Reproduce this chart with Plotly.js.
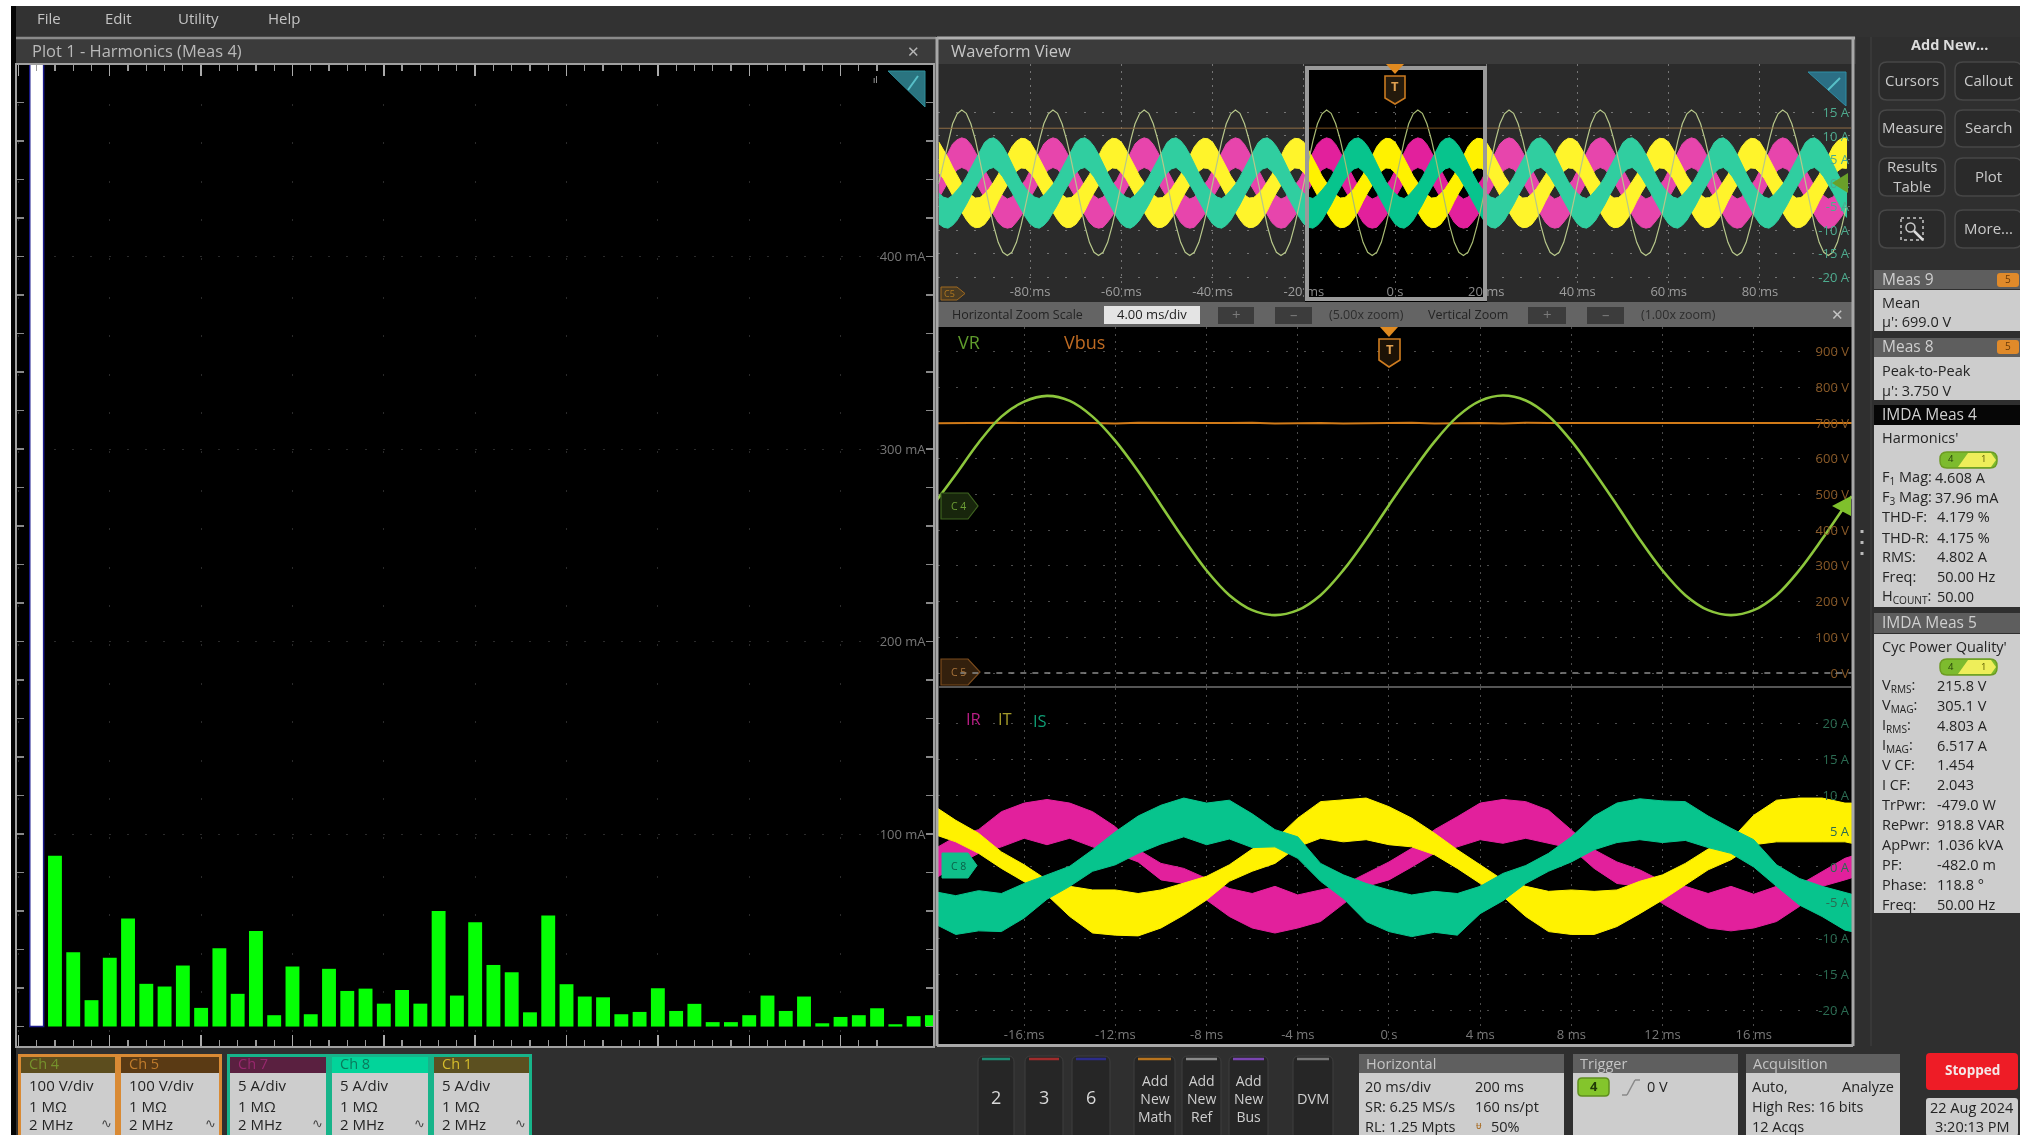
<!DOCTYPE html>
<html><head><meta charset="utf-8">
<script src="https://cdn.plot.ly/plotly-3.0.1.min.js"></script>
<style>html,body{margin:0;padding:0;background:#fff;overflow:hidden}#plot{width:2020px;height:1135px;filter:blur(0.7px)}</style>
</head><body><div id="plot"></div>
<script>
// ---------- values ----------
const harmonicMilliamps = [4608,88.7,38.6,13.7,35.8,56.1,22.2,20.8,31.7,9.7,40.7,17,49.7,5.9,31.2,6.4,30,18.5,19.7,11.9,19,11.9,60,16.1,54.2,32,28.2,7.4,57.7,22,15.6,15.2,6.4,7.6,19.9,8.1,11.8,2.3,2.3,5.9,16.1,8.1,15.6,1.7,5,5.9,9.5,1.2,5.4,5.9];
const harmonicTickValues = [100,200,300,400];
const harmonicTickLabels = ['100 mA','200 mA','300 mA','400 mA'];

// zoomed (40 ms) view
const captureMs = [-20,-19,-18,-17,-16,-15,-14,-13,-12,-11,-10,-9,-8,-7,-6,-5,-4,-3,-2,-1,0,1,2,3,4,5,6,7,8,9,10,11,12,13,14,15,16,17,18,19,20,20.3];
const vrVolts = [470,556,645,718,760,776,762,718,650,565,470,375,287,218,176,162,176,218,288,375,470,562,648,718,762,777,763,720,650,563,470,374,287,218,176,162,176,218,288,375,468,495];
const vbusVolts = [699,700,699,701,700,699,700,700,699,701,700,699,700,700,701,699,700,700,699,700,700,701,699,700,700,699,701,700,700,699,700,701,700,699,700,700,699,701,700,699,700,700];
const irUpperAmps = [2.4,4.2,5.2,7.7,8.9,9.4,8.9,7.7,5.6,2.4,0.5,-0.2,-1.6,-3.0,-3.7,-2.7,-3.9,-3.2,-2.5,-0.9,0.7,2.6,5.2,7.0,8.9,9.4,9.1,7.9,5.2,2.4,0.7,-0.4,-2.0,-2.7,-3.7,-2.7,-3.8,-2.7,-2.5,-0.6,1.2,1.5];
const irLowerAmps = [-1.8,0.2,1.9,2.8,4.0,3.1,4.0,2.8,1.9,0.7,-1.8,-2.3,-4.6,-6.9,-8.5,-9.2,-8.5,-7.6,-5.1,-2.7,-1.8,0.0,1.9,2.8,3.8,3.3,4.0,3.3,2.6,-0.2,-2.3,-2.7,-5.1,-6.9,-8.5,-8.9,-8.5,-7.6,-5.5,-2.7,-1.8,-1.5];
const itUpperAmps = [8.6,6.5,4.7,2.1,0.3,-1.8,-2.7,-3.2,-3.2,-3.7,-3.2,-2.3,-1.3,0.3,2.5,3.8,6.8,9.1,9.3,9.6,8.4,6.8,4.7,2.4,0.3,-1.8,-2.7,-3.4,-3.2,-3.4,-3.2,-2.0,-1.1,0.5,2.5,3.8,7.2,9.3,9.6,9.6,8.9,8.9];
const itLowerAmps = [4.6,3.5,1.9,-0.2,-2.0,-3.9,-6.9,-9.2,-9.5,-9.6,-8.5,-6.7,-4.6,-2.0,-0.6,0.5,2.8,4.0,3.5,3.8,3.1,2.8,1.7,-0.2,-2.3,-4.1,-6.9,-9.0,-9.4,-9.4,-8.3,-6.5,-4.6,-2.5,-0.4,1.0,3.1,3.5,3.5,3.5,3.5,3.3];
const isUpperAmps = [-3.4,-4.0,-3.3,-3.7,-2.3,-1.1,0.1,2.4,4.9,7.1,8.6,9.6,8.9,9.3,7.4,5.2,4.2,0.5,-1.1,-2.3,-3.2,-3.9,-3.4,-3.7,-2.7,-0.9,0.2,1.9,4.2,7.1,8.9,9.5,9.2,9.1,7.1,5.4,3.8,0.3,-1.6,-2.7,-3.5,-3.8];
const isLowerAmps = [-7.8,-9.4,-8.9,-9.0,-7.1,-4.5,-2.7,-0.6,0.3,1.9,3.2,4.2,3.1,3.9,2.7,2.8,1.2,-2.0,-4.4,-7.6,-9.0,-9.7,-9.1,-9.5,-6.5,-4.7,-2.3,-0.6,0.7,2.4,3.4,3.8,3.4,3.7,2.7,1.9,0.0,-2.7,-5.3,-6.9,-8.8,-9.0];

// overview (200 ms) view: one period read from the overview, whose envelopes are wider than in the zoom
const overviewCycleMs = [-20,-19,-18,-17,-16,-15,-14,-13,-12,-11,-10,-9,-8,-7,-6,-5,-4,-3,-2,-1];
const overviewCycleOffsetsMs = [-80,-60,-40,-20,0,20,40,60,80,100];
const ovVrVolts = [470,556,645,718,760,776,762,718,650,565,470,375,287,218,176,162,176,218,288,375];
const ovIrUpper = [2.6,4.6,6.6,8.3,9.2,9.6,9.3,8.2,6.5,4.7,2.7,0.9,-0.8,-2.0,-2.8,-3.4,-3.0,-1.8,-0.6,0.7];
const ovIrLower = [-3.2,-1.4,0.2,1.7,2.8,3.3,2.9,1.8,0.3,-1.5,-3.1,-5.1,-6.8,-8.4,-9.3,-9.6,-9.4,-8.3,-7.0,-5.3];
const ovItUpper = [8.7,7.1,5.4,3.4,1.5,-0.1,-1.4,-2.5,-3.2,-3.1,-2.3,-1.2,0.2,1.8,3.8,5.8,7.7,8.9,9.5,9.4];
const ovItLower = [2.2,0.9,-0.7,-2.5,-4.4,-6.2,-7.8,-9.0,-9.5,-9.4,-8.8,-7.5,-5.9,-3.9,-2.1,-0.4,1.1,2.5,3.2,3.1];
const ovIsUpper = [-2.2,-3.0,-3.3,-2.6,-1.5,-0.3,1.3,3.2,5.1,7.0,8.6,9.4,9.6,9.0,7.8,6.1,4.0,2.1,0.3,-1.1];
const ovIsLower = [-8.7,-9.4,-9.6,-9.0,-7.9,-6.4,-4.6,-2.7,-0.9,0.7,2.1,3.0,3.3,2.5,1.3,-0.2,-2.0,-3.8,-5.7,-7.3];

const zoomTimeTicks = [-16,-12,-8,-4,0,4,8,12,16];
const zoomTimeLabels = ['-16 ms','-12 ms','-8 ms','-4 ms','0 s','4 ms','8 ms','12 ms','16 ms'];
const overviewTimeTicks = [-80,-60,-40,-20,0,20,40,60,80];
const overviewTimeLabels = ['-80 ms','-60 ms','-40 ms','-20 ms','0 s','20 ms','40 ms','60 ms','80 ms'];
const voltTicks = [0,100,200,300,400,500,600,700,800,900];
const voltLabels = ['0 V','100 V','200 V','300 V','400 V','500 V','600 V','700 V','800 V','900 V'];
const ampTicks = [-20,-15,-10,-5,0,5,10,15,20];
const ampLabels = ['-20 A','-15 A','-10 A','-5 A','0 A','5 A','10 A','15 A','20 A'];

// ---------- helpers ----------
const W=2020,H=1135;
const X=p=>p/W, Y=p=>1-p/H;
const FONT='"Open Sans", sans-serif';
const shapes=[], notes=[];
function rect(x0,y0,x1,y1,fill,line,lw,layer){shapes.push({type:'rect',xref:'paper',yref:'paper',x0:X(x0),x1:X(x1),y0:Y(y0),y1:Y(y1),fillcolor:fill||'rgba(0,0,0,0)',line:{color:line||'rgba(0,0,0,0)',width:lw||0},layer:layer||'below'});}
function line(x0,y0,x1,y1,c,w,layer,dash){shapes.push({type:'line',xref:'paper',yref:'paper',x0:X(x0),x1:X(x1),y0:Y(y0),y1:Y(y1),line:{color:c,width:w||1,dash:dash||'solid'},layer:layer||'above'});}
function poly(pts,fill,lc,lw){const d=pts.map((p,i)=>(i?'L':'M')+X(p[0])+','+Y(p[1])).join(' ')+' Z';shapes.push({type:'path',xref:'paper',yref:'paper',path:d,fillcolor:fill,line:{color:lc||'rgba(0,0,0,0)',width:lw||0},layer:'above'});}
function rrect(x0,y0,x1,y1,r,fill,lc,lw,layer){const P=(x,y)=>X(x)+','+Y(y);const d='M'+P(x0+r,y0)+' L'+P(x1-r,y0)+' Q'+P(x1,y0)+' '+P(x1,y0+r)+' L'+P(x1,y1-r)+' Q'+P(x1,y1)+' '+P(x1-r,y1)+' L'+P(x0+r,y1)+' Q'+P(x0,y1)+' '+P(x0,y1-r)+' L'+P(x0,y0+r)+' Q'+P(x0,y0)+' '+P(x0+r,y0)+' Z';shapes.push({type:'path',xref:'paper',yref:'paper',path:d,fillcolor:fill,line:{color:lc||'rgba(0,0,0,0)',width:lw||0},layer:layer||'below'});}
function txt(x,y,t,size,color,anchor,extra){notes.push(Object.assign({xref:'paper',yref:'paper',x:X(x),y:Y(y-1),text:t,showarrow:false,xanchor:anchor||'left',yanchor:'middle',font:{family:FONT,size:size,color:color},borderpad:0,borderwidth:0},extra||{}));}

// ---------- screen furniture ----------
rect(0,0,2020,6,'#ffffff');
rect(0,0,11,1135,'#ffffff');
rect(11,6,16,1135,'#050505');
rect(16,6,2020,37,'#323232');
[['File',37],['Edit',105],['Utility',178],['Help',268]].forEach(m=>txt(m[1],19,m[0],15,'#c4c4c4'));
rect(16,37,936,65,'#3b3b3b'); line(16,38,936,38,'#8a8a8a',2.5,'below');
txt(32,52,'Plot 1 - Harmonics (Meas 4)',16.5,'#b9b9b9');
txt(913,52,'✕',15,'#b5b5b5','center');
poly([[888,71],[925,71],[925,107]],'#2a7480','#2f8f9a',1);
line(908,90,918,76,'#58c0c8',2);
txt(875,81,'ıl',9,'#bbbbbb','center');
rect(936,37,1856,64,'#3b3b3b'); line(937,38,1855,38,'#b0b0b0',3,'below');
txt(951,52,'Waveform View',16.5,'#c6c6c6');
rect(938,302,1852,327,'#646464','','','above');
txt(952,315,'Horizontal Zoom Scale',12.5,'#232323');
rect(1104,306,1200,324,'#e4e4e4','','','above');
txt(1152,315,'4.00 ms/div',13,'#222','center');
[[1218,1254,'+'],[1275,1312,'–'],[1528,1566,'+'],[1587,1624,'–']].forEach(b=>{rect(b[0],307,b[1],324,'#3c3c3c','','','above');txt((b[0]+b[1])/2,315,b[2],15,'#7a7a7a','center');});
txt(1366,315,'(5.00x zoom)',12.5,'#2d2d2d','center');
txt(1428,315,'Vertical Zoom',12.5,'#232323');
txt(1678,315,'(1.00x zoom)',12.5,'#2d2d2d','center');
txt(1837,315,'✕',15,'#c4c4c4','center');
// overview dimming and zoom box
rect(938,64,1305,302,'rgba(255,255,255,0.17)','','','above');
rect(1487,64,1852,302,'rgba(255,255,255,0.17)','','','above');
rect(1305,64,1487,67,'rgba(255,255,255,0.17)','','','above');
rect(1307,68,1485,299,'rgba(0,0,0,0)','#9a9a9a',4,'above');
// panel frame
line(937,37,937,1046,'#a8a8a8',3,'above'); line(1853,37,1853,1046,'#a8a8a8',3,'above');
line(937,1045.5,1853,1045.5,'#a8a8a8',3,'above'); line(938,687,1852,687,'#555',2,'above');
// overview markers
poly([[1386,64],[1404,64],[1395,74]],'#e08a20');
poly([[1385,76],[1405,76],[1405,98],[1395,104],[1385,98]],'#241a0c','#c97a20',1.6);
txt(1395,87,'T',13,'#e0a050','center',{font:{family:FONT,size:13,color:'#e0a050',weight:700}});
poly([[941,287],[957,287],[965,293.5],[957,300],[941,300]],'#4a3b22','#a06a20',1);
txt(949,294,'C5',9,'#b07820','center');
poly([[1808,72],[1846,72],[1846,106]],'#2b6f85','#2f8fa5',1);
line(1828,90,1840,78,'#58c0c8',2);
poly([[1848,173],[1848,193],[1832,183]],'#6aa02a');
// main markers
poly([[1380,327],[1398,327],[1389,337]],'#e08a20');
poly([[1379,339],[1400,339],[1400,360],[1389,367],[1379,360]],'#1c1206','#d07d20',1.6);
txt(1389.5,350,'T',13,'#e0a050','center',{font:{family:FONT,size:13,color:'#e0a050',weight:700}});
poly([[941,493],[968,493],[978,506],[968,519],[941,519]],'#18260c','#3f6420',1.2);
txt(958,507,'C 4',10.5,'#6d9e35','center');
poly([[941,659],[968,659],[980,672],[968,685],[941,685]],'#33200d','#7a4a1c',1.2);
txt(958,673,'C 5',10.5,'#a9743b','center');
poly([[942,853],[968,853],[977,865.5],[968,878],[942,878]],'#0fbf8a','#0fbf8a',1);
txt(958,867,'C 8',10.5,'#0a6048','center');
poly([[1851,496],[1851,516],[1832,506]],'#7fc02c');
txt(958,343,'VR',18,'#5f9c2c');
txt(1064,343,'Vbus',18,'#bf6b22');
txt(966,720,'IR',16.5,'#b71e84');
txt(998,720,'IT',16.5,'#a39a2a');
txt(1033,721,'IS',16.5,'#0f9c74');

// right sidebar
line(1871,37,1871,1046,'#3c3c3c',1.5,'below');
txt(1949,46,'Add New...',14.5,'#dcdcdc','center',{font:{family:FONT,size:14.5,color:'#dcdcdc',weight:700}});
[[1879,1945,62,100,'Cursors'],[1955,2022,62,100,'Callout'],[1879,1945,110,147,'Measure'],[1955,2022,110,147,'Search'],[1879,1945,158,196,'Results<br>Table'],[1955,2022,158,196,'Plot'],[1879,1945,210,248,''],[1955,2022,210,248,'More...']].forEach(b=>{rrect(b[0],b[2],b[1],b[3],8,'#2a2a2a','#474747',1.5);if(b[4])txt((b[0]+b[1])/2,(b[2]+b[3])/2,b[4],15,'#c9c9c9','center',{align:'center'});});
rect(1901,218,1923,240,'rgba(0,0,0,0)','#c8c8c8',1.5,'above'); shapes[shapes.length-1].line.dash='dot';
shapes.push({type:'circle',xref:'paper',yref:'paper',x0:X(1906),x1:X(1915),y0:Y(223),y1:Y(232),line:{color:'#c8c8c8',width:1.5},layer:'above'});
line(1914,231,1923,240,'#dcdcdc',2.5);
line(1862,530,1862,533,'#bbb',3,'above'); line(1862,541,1862,544,'#bbb',3,'above'); line(1862,552,1862,555,'#bbb',3,'above');
function measHeader(y0,y1,t,dark){rect(1874,y0,2020,y1,dark?'#060606':'#5e5e5e');txt(1882,(y0+y1)/2,t,15.5,'#cfcfcf');}
function badge(y){rrect(1997,y-7,2019,y+7,3,'#e08a2a');txt(2008,y,'5',10,'#6a3a08','center');}
const BODY='#cdcdcd',INK='#242424';
measHeader(270,289,'Meas 9'); badge(280); rect(1874,290,2020,331,BODY);
txt(1882,303,'Mean',14.5,INK); txt(1882,323,"µ': 699.0 V",14.5,INK);
measHeader(338,357,'Meas 8'); badge(347); rect(1874,357,2020,400,BODY);
txt(1882,371,'Peak-to-Peak',14.5,INK); txt(1882,391,"µ': 3.750 V",14.5,INK);
measHeader(405,425,'IMDA Meas 4',true); rect(1874,425,2020,607,BODY);
txt(1882,438,"Harmonics'",14.5,INK);
function pill(y){rrect(1940,y-8,1997,y+8,7,'#7dbb2e','#6c9c22',1.5);poly([[1968,y-7],[1991,y-7],[1996,y],[1991,y+7],[1958,y+7]],'#eeee5a');txt(1951,y,'4',9.5,'#26400a','center');txt(1983,y,'1',9.5,'#5a5a00','center');}
pill(460);
[[478,'F<sub>1</sub> Mag:','4.608 A',1935],[498,'F<sub>3</sub> Mag:','37.96 mA',1935],[518,'THD-F:','4.179 %',1937],[538,'THD-R:','4.175 %',1937],[557,'RMS:','4.802 A',1937],[577,'Freq:','50.00 Hz',1937],[597,'H<sub>COUNT</sub>:','50.00',1937]].forEach(r=>{txt(1882,r[0],r[1],14.5,INK);txt(r[3],r[0],r[2],14.5,INK);});
measHeader(613,633,'IMDA Meas 5'); rect(1874,634,2020,913,BODY);
txt(1882,647,"Cyc Power Quality'",14.5,INK);
pill(667);
[[686,'V<sub>RMS</sub>:','215.8 V'],[706,'V<sub>MAG</sub>:','305.1 V'],[726,'I<sub>RMS</sub>:','4.803 A'],[746,'I<sub>MAG</sub>:','6.517 A'],[765,'V CF:','1.454'],[785,'I CF:','2.043'],[805,'TrPwr:','-479.0 W'],[825,'RePwr:','918.8 VAR'],[845,'ApPwr:','1.036 kVA'],[865,'PF:','-482.0 m'],[885,'Phase:','118.8 °'],[905,'Freq:','50.00 Hz']].forEach(r=>{txt(1882,r[0],r[1],14.5,INK);txt(1937,r[0],r[2],14.5,INK);});

// bottom: channel badges
function chan(x0,x1,border,head,tc,t,l1){rect(x0,1054,x1,1135,border);rect(x0+3,1057,x1-3,1073,head);rect(x0+3,1073,x1-3,1135,BODY);
 txt(x0+11,1064.5,t,14.5,tc);txt(x0+11,1086,l1,15,INK);txt(x0+11,1107,'1 MΩ',15,INK);txt(x0+11,1125,'2 MHz',15,INK);txt(x1-12,1124,'∿',13,'#444','center',{font:{family:'DejaVu Sans',size:13,color:'#444'}});}
chan(18,118,'#d98a34','#5c4d1e','#76922c','Ch 4','100 V/div');
chan(118,222,'#d98a34','#5a3a14','#c07c2c','Ch 5','100 V/div');
chan(227,329,'#17b48a','#5a2040','#98286e','Ch 7','5 A/div');
chan(329,431,'#17b48a','#02d49a','#0a7a5c','Ch 8','5 A/div');
chan(431,532,'#17b48a','#5c5020','#d4bc2c','Ch 1','5 A/div');
// bottom: add-channel buttons
[[978,1014,'#1d8a72','2'],[1025,1063,'#a02c2c','3'],[1072,1110,'#2c2c8a','6']].forEach(b=>{rrect(b[0],1056,b[1],1140,6,'#262626','#3e3e3e',1);line(b[0]+4,1059,b[1]-4,1059,b[2],2.5,'below');txt((b[0]+b[1])/2,1098,b[3],18,'#d8d8d8','center');});
[[1134,1175,'#b8741e','Math'],[1182,1221,'#8a8a8a','Ref'],[1229,1268,'#7a45b0','Bus']].forEach(b=>{rrect(b[0],1056,b[1],1140,6,'#262626','#3e3e3e',1);line(b[0]+4,1059,b[1]-4,1059,b[2],2.5,'below');txt((b[0]+b[1])/2,1099,'Add<br>New<br>'+b[3],14,'#cfcfcf','center',{align:'center'});});
rrect(1293,1056,1333,1140,6,'#262626','#3e3e3e',1);line(1297,1059,1329,1059,'#777',2.5,'below');txt(1313,1099,'DVM',14.5,'#cfcfcf','center');
function block(x0,x1,t){rect(x0,1054,x1,1073,'#5f5f5f');rect(x0,1073,x1,1135,BODY);txt(x0+7,1064,t,14.5,'#c4c4c4');}
block(1359,1564,'Horizontal');
txt(1365,1087,'20 ms/div',14.5,INK);txt(1475,1087,'200 ms',14.5,INK);
txt(1365,1107,'SR: 6.25 MS/s',14.5,INK);txt(1475,1107,'160 ns/pt',14.5,INK);
txt(1365,1127,'RL: 1.25 Mpts',14.5,INK);txt(1476,1126,'ᵾ',10,'#a86a20');txt(1491,1127,'50%',14.5,INK);
block(1573,1738,'Trigger');
rrect(1578,1078,1609,1096,4,'#84c52c','#5f8f1e',1.5);txt(1593.5,1087,'4',13,'#223a08','center',{font:{family:FONT,size:13,color:'#223a08',weight:700}});
line(1622,1095,1627,1095,'#888',1.5);line(1627,1095,1635,1080,'#888',1.5);line(1635,1080,1640,1080,'#888',1.5);
txt(1647,1087,'0 V',14.5,INK);
block(1746,1900,'Acquisition');
txt(1752,1087,'Auto,',14.5,INK);txt(1894,1087,'Analyze',14.5,INK,'right');
txt(1752,1107,'High Res: 16 bits',14.5,INK);txt(1752,1127,'12 Acqs',14.5,INK);
rrect(1926,1053,2018,1090,4,'#ee1c26');txt(1972,1071,'Stopped',13.5,'#f4e8e8','center',{font:{family:FONT,size:13.5,color:'#f4e8e8',weight:700}});
rrect(1926,1098,2018,1136,3,BODY);txt(1972,1108,'22 Aug 2024',14.5,INK,'center');txt(1972,1127,'3:20:13 PM',14.5,INK,'center');

// ---------- traces ----------
const tiledMs=[];overviewCycleOffsetsMs.forEach(o=>overviewCycleMs.forEach(t=>tiledMs.push(t+o)));
function tile(vals){const out=[];overviewCycleOffsetsMs.forEach(()=>vals.forEach(v=>out.push(v)));return out;}
function band(xs,up,lo,color,xa,ya,name){return {type:'scatter',mode:'lines',name,x:xs.concat(xs.slice().reverse()),y:up.concat(lo.slice().reverse()),fill:'toself',fillcolor:color,line:{color:color,width:1},xaxis:xa,yaxis:ya,hoverinfo:'skip',showlegend:false};}
const MAG='#e2209c',YEL='#fff200',TEAL='#07c48d';
const orders=harmonicMilliamps.map((v,i)=>i+1);
const traces=[
 {type:'bar',name:'Harmonics',x:orders,y:harmonicMilliamps,width:0.76,marker:{color:orders.map(n=>n===1?'#ffffff':'#05ff05'),line:{color:orders.map(n=>n===1?'#1a1a8a':'#05ff05'),width:orders.map(n=>n===1?1.5:0)}},xaxis:'x',yaxis:'y',showlegend:false},
 {type:'scatter',mode:'lines',name:'VR overview',x:tiledMs,y:tile(ovVrVolts),line:{color:'#a9bc74',width:1.2},xaxis:'x2',yaxis:'y3',showlegend:false},
 {type:'scatter',mode:'lines',name:'Vbus overview',x:[-100,100],y:[vbusVolts[0],vbusVolts[1]],line:{color:'#7a5020',width:1},xaxis:'x2',yaxis:'y3',showlegend:false},
 band(tiledMs,tile(ovIrUpper),tile(ovIrLower),MAG,'x2','y2','IR overview'),
 band(tiledMs,tile(ovItUpper),tile(ovItLower),YEL,'x2','y2','IT overview'),
 band(tiledMs,tile(ovIsUpper),tile(ovIsLower),TEAL,'x2','y2','IS overview'),
 {type:'scatter',mode:'lines',name:'Vbus',x:captureMs,y:vbusVolts,line:{color:'#d07a18',width:2},xaxis:'x3',yaxis:'y4',showlegend:false},
 {type:'scatter',mode:'lines',name:'VR',x:captureMs,y:vrVolts,line:{color:'#8cc63c',width:2.6,shape:'spline'},xaxis:'x3',yaxis:'y4',showlegend:false},
 band(captureMs,irUpperAmps,irLowerAmps,MAG,'x4','y5','IR'),
 band(captureMs,itUpperAmps,itLowerAmps,YEL,'x4','y5','IT'),
 band(captureMs,isUpperAmps,isLowerAmps,TEAL,'x4','y5','IS')
];
shapes.push({type:'line',xref:'x3',yref:'y4',x0:-18.8,x1:20.3,y0:0,y1:0,line:{color:'#8a8a8a',width:1.4,dash:'6px,6px'},layer:'above'});

const layout={
 width:W,height:H,margin:{l:0,r:0,t:0,b:0,pad:0},autosize:false,
 paper_bgcolor:'#2f2f2f',plot_bgcolor:'#000000',bargap:0,
 font:{family:FONT,size:13,color:'#777'},showlegend:false,hovermode:false,
 xaxis:{domain:[X(17),X(933)],range:[-0.078,50.06],anchor:'y',tick0:0,dtick:5,ticks:'inside',ticklen:11,tickcolor:'#aaa',tickwidth:1.4,showticklabels:false,
   minor:{dtick:1,tick0:0,ticks:'inside',ticklen:6,tickcolor:'#999',tickwidth:1.2,showgrid:false},
   showgrid:true,gridcolor:'#2a2a2a',griddash:'2px,36.6px',zeroline:false,showline:true,linecolor:'#a0a0a0',linewidth:2,mirror:'ticks'},
 yaxis:{domain:[Y(1046),Y(65)],range:[-10.1,499.5],anchor:'x',side:'right',tickmode:'array',tickvals:harmonicTickValues,ticktext:harmonicTickLabels,ticklabelposition:'inside',tickfont:{family:FONT,size:13,color:'#777'},ticks:'inside',ticklen:7,tickcolor:'#888',
   minor:{tickmode:'linear',dtick:20,tick0:0,ticks:'inside',ticklen:7,tickcolor:'#888',tickwidth:1.2,showgrid:false},
   showgrid:true,gridcolor:'#2a2a2a',griddash:'2px,16.3px',zeroline:false,showline:true,linecolor:'#a0a0a0',linewidth:2,mirror:'ticks'},
 xaxis2:{domain:[X(938),X(1852)],range:[-100.2,100.2],anchor:'y2',tickmode:'array',tickvals:overviewTimeTicks,ticktext:overviewTimeLabels,ticklabelposition:'inside',tickfont:{family:FONT,size:13,color:'#8a8a8a'},ticks:'',showgrid:true,gridcolor:'#5a5a5a',griddash:'2px,5px',zeroline:false,showline:false},
 yaxis2:{domain:[Y(302),Y(64)],range:[-25.3,25.3],anchor:'x2',side:'right',tickmode:'array',tickvals:ampTicks.slice(0,8),ticktext:ampLabels.slice(0,8),ticklabelposition:'inside',tickfont:{family:FONT,size:13,color:'#2a9a78'},ticks:'',showgrid:true,gridcolor:'#5a5a5a',griddash:'2px,16.2px',zeroline:false,showline:false},
 yaxis3:{domain:[Y(302),Y(64)],range:[-33.8,970],anchor:'x2',overlaying:'y2',side:'left',showticklabels:false,ticks:'',showgrid:false,zeroline:false},
 xaxis3:{domain:[X(938),X(1852)],range:[-19.78,20.31],anchor:'y4',tickmode:'array',tickvals:zoomTimeTicks,showticklabels:false,ticks:'',showgrid:true,gridcolor:'#4c4c4c',griddash:'2px,5px',zeroline:false},
 yaxis4:{domain:[Y(686),Y(327)],range:[-36.4,969],anchor:'x3',side:'right',tickmode:'array',tickvals:voltTicks,ticktext:voltLabels,ticklabelposition:'inside',tickfont:{family:FONT,size:13,color:'#8a5a28'},ticks:'',showgrid:true,gridcolor:'#4c4c4c',griddash:'2px,16.3px',zeroline:false},
 xaxis4:{domain:[X(938),X(1852)],range:[-19.78,20.31],anchor:'y5',tickmode:'array',tickvals:zoomTimeTicks,ticktext:zoomTimeLabels,ticklabelposition:'inside',tickfont:{family:FONT,size:13,color:'#7a7a7a'},ticks:'',showgrid:true,gridcolor:'#4c4c4c',griddash:'2px,5px',zeroline:false},
 yaxis5:{domain:[Y(1045),Y(688)],range:[-24.8,24.93],anchor:'x4',side:'right',tickmode:'array',tickvals:ampTicks,ticktext:ampLabels,ticklabelposition:'inside',tickfont:{family:FONT,size:13,color:'#2b6b52'},ticks:'',showgrid:true,gridcolor:'#4c4c4c',griddash:'2px,16.3px',zeroline:false},
 shapes:shapes,annotations:notes
};
Plotly.newPlot('plot',traces,layout,{staticPlot:true,displayModeBar:false});
</script></body></html>
